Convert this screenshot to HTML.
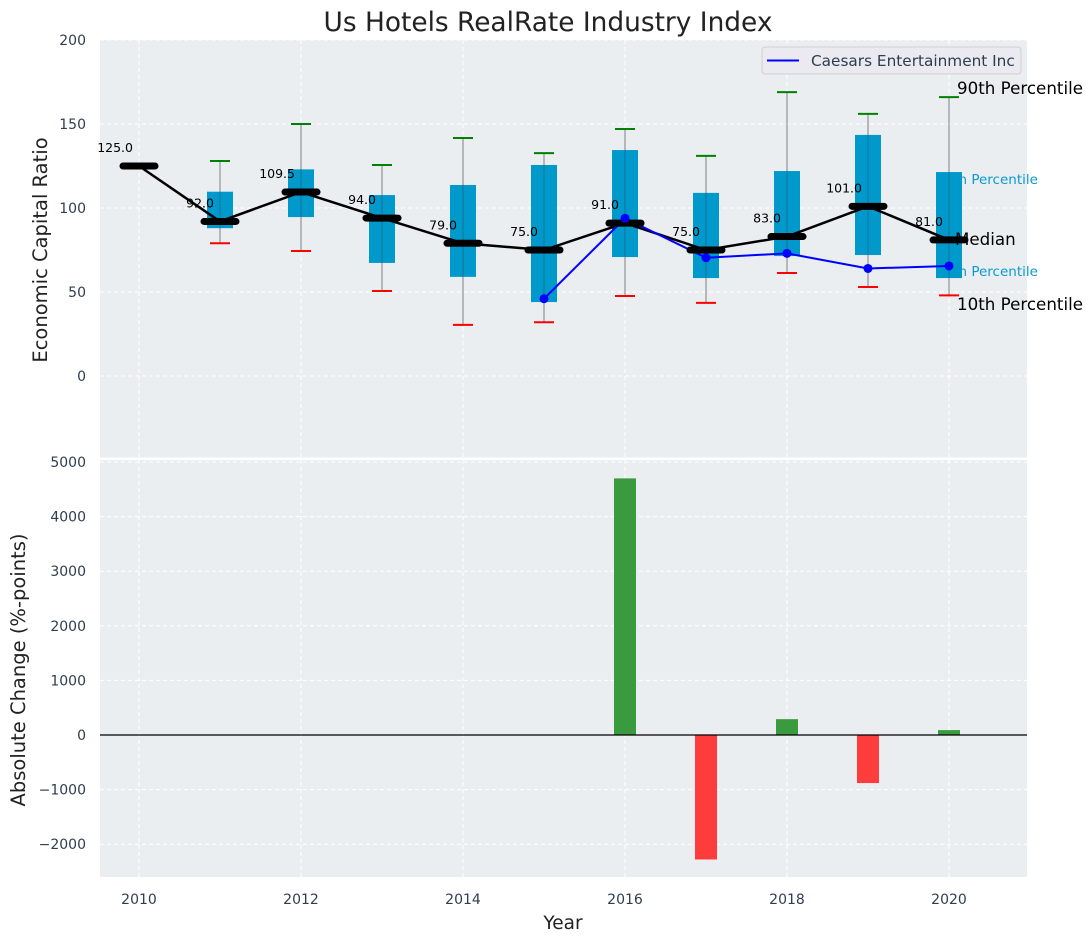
<!DOCTYPE html>
<html><head><meta charset="utf-8"><style>
body{margin:0;background:#fff}
svg text{font-family:"DejaVu Sans","Liberation Sans",sans-serif}
</style></head><body>
<svg id="c" width="1092" height="942" xmlns="http://www.w3.org/2000/svg"></svg>
<script>
const years=[2010,2011,2012,2013,2014,2015,2016,2017,2018,2019,2020];
const medians=[125,92,109.5,94,79,75,91,75,83,101,81];
const q75=[null,109.7,123,107.7,113.7,125.6,134.5,109,122,143.5,121.4];
const q25=[null,88,94.6,67.3,59,44,70.8,58.3,71.4,72,58.3];
const p90=[null,128,150,125.6,141.7,132.7,147,131,169,156,166];
const p10=[null,79,74.4,50.6,30.4,32,47.6,43.5,61.3,53,48];
const caesarsYears=[2015,2016,2017,2018,2019,2020];
const caesars=[46,93.9,70.4,73,64,65.5];
const changeYears=[2016,2017,2018,2019,2020];
const changes=[4700,-2280,290,-880,90];
const topTicks=[0,50,100,150,200];
const botTicks=[-2000,-1000,0,1000,2000,3000,4000,5000];
const xTicks=[2010,2012,2014,2016,2018,2020];

const S=document.getElementById('c');const NS='http://www.w3.org/2000/svg';
function el(t,a,txt,p){const e=document.createElementNS(NS,t);for(const k in a)e.setAttribute(k,a[k]);if(txt!=null)e.textContent=txt;(p||S).appendChild(e);return e;}
const L=100,R=1027;
const x=v=>139+(v-2010)*81;
const yT=v=>376-v*1.68;
const yB=v=>735-v*0.0546;
let p=el('rect',{x:L,y:40,width:R-L,height:418,fill:'#eaeef0'});

p=el('rect',{x:L,y:460,width:R-L,height:417,fill:'#eaeef0'});

const g=el('g',{});
xTicks.forEach(t=>{el('line',{x1:x(t),x2:x(t),y1:40,y2:458,stroke:'#fff','stroke-dasharray':'4,3'},null,g);el('line',{x1:x(t),x2:x(t),y1:460,y2:877,stroke:'#fff','stroke-dasharray':'4,3'},null,g);});
topTicks.forEach(t=>{el('line',{x1:L,x2:R,y1:yT(t),y2:yT(t),stroke:'#fff','stroke-dasharray':'4,3'},null,g);
 const tx=el('text',{x:86,y:yT(t)+5,'text-anchor':'end','font-size':14,fill:'#2e3e50'},t);
 });
botTicks.forEach(t=>{el('line',{x1:L,x2:R,y1:yB(t),y2:yB(t),stroke:'#fff','stroke-dasharray':'4,3'},null,g);
 const tx=el('text',{x:86,y:yB(t)+5,'text-anchor':'end','font-size':14,fill:'#2e3e50'},(t<0?'\u2212'+(-t):t));
 });
xTicks.forEach(t=>{const tx=el('text',{x:x(t),y:904,'text-anchor':'middle','font-size':14,fill:'#2e3e50'},t);
 });
el('line',{x1:L,x2:R,y1:458.5,y2:458.5,stroke:'#fff','stroke-width':2});
let a=el('text',{x:936,y:184,'font-size':13.5,fill:'#0a9ad0'},'75th Percentile');
a=el('text',{x:936,y:276,'font-size':13.5,fill:'#0a9ad0'},'25th Percentile');
years.forEach((yr,i)=>{if(q75[i]==null)return;const cx=x(yr);
 let w=el('line',{x1:cx,x2:cx,y1:yT(p90[i]),y2:yT(p10[i]),stroke:'#808080','stroke-width':1});
 
 let b=el('rect',{x:cx-13,y:yT(q75[i]),width:26,height:yT(q25[i])-yT(q75[i]),fill:'#0099cc'});
 
 el('line',{x1:cx,x2:cx,y1:yT(q75[i]),y2:yT(q25[i]),stroke:'#2a5a70','stroke-width':1,opacity:0.6});
 let h=el('line',{x1:cx-10,x2:cx+10,y1:yT(p90[i]),y2:yT(p90[i]),stroke:'#008000','stroke-width':2});
 
 h=el('line',{x1:cx-10,x2:cx+10,y1:yT(p10[i]),y2:yT(p10[i]),stroke:'#ff0000','stroke-width':2});
 
});
let ml=el('polyline',{points:years.map((yr,i)=>x(yr)+','+yT(medians[i])).join(' '),fill:'none',stroke:'#000','stroke-width':2.5});

let cl=el('polyline',{points:caesarsYears.map((yr,i)=>x(yr)+','+yT(caesars[i])).join(' '),fill:'none',stroke:'#0000ff','stroke-width':2});

years.forEach((yr,i)=>{const cx=x(yr),cy=yT(medians[i]);
 let m=el('line',{x1:cx-16,x2:cx+16,y1:cy,y2:cy,stroke:'#000','stroke-width':7,'stroke-linecap':'round'});
 
 let t=el('text',{x:cx-6,y:cy-14,'text-anchor':'end','font-size':12.5,fill:'#000'},medians[i].toFixed(1));
 });
caesarsYears.forEach((yr,i)=>{let c=el('circle',{cx:x(yr),cy:yT(caesars[i]),r:4.5,fill:'#0000ff'});
 });
a=el('text',{x:957,y:94,'font-size':16.7,fill:'#000'},'90th Percentile');
a=el('text',{x:955,y:245,'font-size':16.7,fill:'#000'},'Median');
a=el('text',{x:957,y:310,'font-size':16.7,fill:'#000'},'10th Percentile');
const lg=el('g',{});
el('rect',{x:762,y:47,width:259,height:27,rx:3,fill:'#eaeaf0',stroke:'#d0d0d0'},null,lg);
el('line',{x1:767,x2:799,y1:60.5,y2:60.5,stroke:'#0000ff','stroke-width':2},null,lg);
el('text',{x:811,y:66,'font-size':15.3,fill:'#2e3e50'},'Caesars Entertainment Inc',lg);
changeYears.forEach((yr,i)=>{const v=changes[i];const y0=yB(0),y1=yB(v);
 let b=el('rect',{x:x(yr)-11,y:Math.min(y0,y1),width:22,height:Math.abs(y1-y0),fill:v>=0?'#3a9b3e':'#ff3c3c'});
 });
el('line',{x1:L,x2:R,y1:735,y2:735,stroke:'#000','stroke-width':1.3});
let t=el('text',{x:548,y:31,'text-anchor':'middle','font-size':26.4,fill:'#222'},'Us Hotels RealRate Industry Index');
t=el('text',{x:563,y:929,'text-anchor':'middle','font-size':18.5,fill:'#222'},'Year');
t=el('text',{x:0,y:0,'text-anchor':'middle','font-size':19.5,fill:'#222',transform:'translate(47,250) rotate(-90)'},'Economic Capital Ratio');
t=el('text',{x:0,y:0,'text-anchor':'middle','font-size':19.5,fill:'#222',transform:'translate(25,670) rotate(-90)'},'Absolute Change (%-points)');
</script>
</body></html>
